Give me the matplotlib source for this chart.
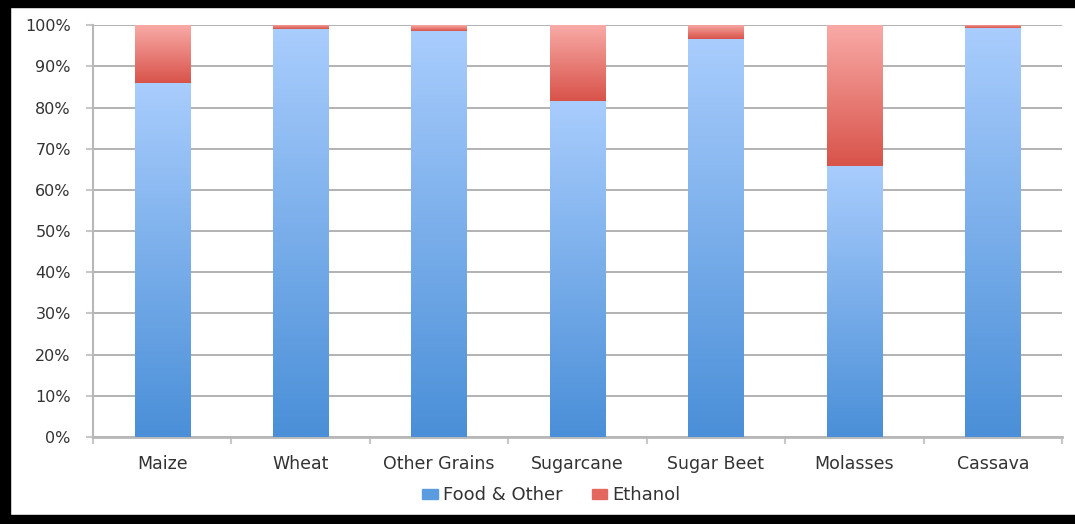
import numpy as np
import matplotlib.pyplot as plt
from matplotlib.colors import LinearSegmentedColormap
from matplotlib.patches import Rectangle, Patch

# 数据
crops = ['Maize', 'Wheat', 'Other Grains', 'Sugarcane', 'Sugar Beet', 'Molasses', 'Cassava']
food = [86.0, 99.0, 98.7, 81.6, 96.6, 65.8, 99.2]
ethanol = [100 - v for v in food]
yticks = [0, 10, 20, 30, 40, 50, 60, 70, 80, 90, 100]

blue_cm = LinearSegmentedColormap.from_list('b', ['#4a8fd8', '#a9cdfd'])
red_cm = LinearSegmentedColormap.from_list('r', ['#d8534a', '#f9aaa6'])

fig = plt.figure(figsize=(10.75, 5.24), dpi=100)
ax = fig.add_axes([0.0865, 0.166, 0.9015, 0.786])

x = np.arange(len(crops))
w = 0.4
b1 = ax.bar(x, food, w, color='none', edgecolor='none', zorder=3)
b2 = ax.bar(x, ethanol, w, bottom=food, color='none', edgecolor='none', zorder=3)

# 渐变填充
grad = np.linspace(0, 1, 256).reshape(-1, 1)
for bars, cm in ((b1, blue_cm), (b2, red_cm)):
    for r in bars:
        x0, y0 = r.get_x(), r.get_y()
        x1, y1 = x0 + r.get_width(), y0 + r.get_height()
        if y1 - y0 <= 0:
            continue
        ax.imshow(grad, cmap=cm, extent=[x0, x1, y0, y1], origin='lower',
                  aspect='auto', zorder=3, interpolation='bilinear')

ax.set_xlim(-0.5, len(crops) - 0.5)
ax.set_ylim(0, 100)
ax.set_yticks(yticks)
ax.set_yticklabels(['%d%%' % v for v in yticks])
ax.set_xticks(x)
ax.set_xticklabels(crops)
ax.set_xticks(np.arange(len(crops) + 1) - 0.5, minor=True)

ax.yaxis.grid(True, color='#a6a6a6', lw=1.2, zorder=0)
ax.set_axisbelow(True)
for s in ('top', 'right'):
    ax.spines[s].set_visible(False)
ax.spines['left'].set_color('#b8b8b8')
ax.spines['left'].set_linewidth(1.5)
ax.spines['bottom'].set_color('#b8b8b8')
ax.spines['bottom'].set_linewidth(2)

ax.tick_params(axis='x', which='major', length=0, pad=13, labelsize=12.5, labelcolor='#333333')
ax.tick_params(axis='x', which='minor', length=5, width=1.5, color='#c8c8c8')
ax.tick_params(axis='y', length=5, width=1.5, color='#c8c8c8', pad=11,
               labelsize=11.5, labelcolor='#333333')

handles = [Patch(color='#5b9be0', label='Food & Other'), Patch(color='#e4675f', label='Ethanol')]
fig.legend(handles=handles, loc='center', bbox_to_anchor=(0.513, 0.055), ncol=2,
           frameon=False, fontsize=13, handlelength=0.85, handleheight=0.45,
           handletextpad=0.3, columnspacing=1.6, labelcolor='#333333')

# 黑色边框
fig.patches.append(Rectangle((0, 1 - 7 / 524), 1, 7 / 524, transform=fig.transFigure, color='black'))
fig.patches.append(Rectangle((0, 0), 10 / 1075, 1, transform=fig.transFigure, color='black'))
fig.patches.append(Rectangle((0, 0), 1, 9 / 524, transform=fig.transFigure, color='black'))

fig.savefig('out.png', dpi=100)
